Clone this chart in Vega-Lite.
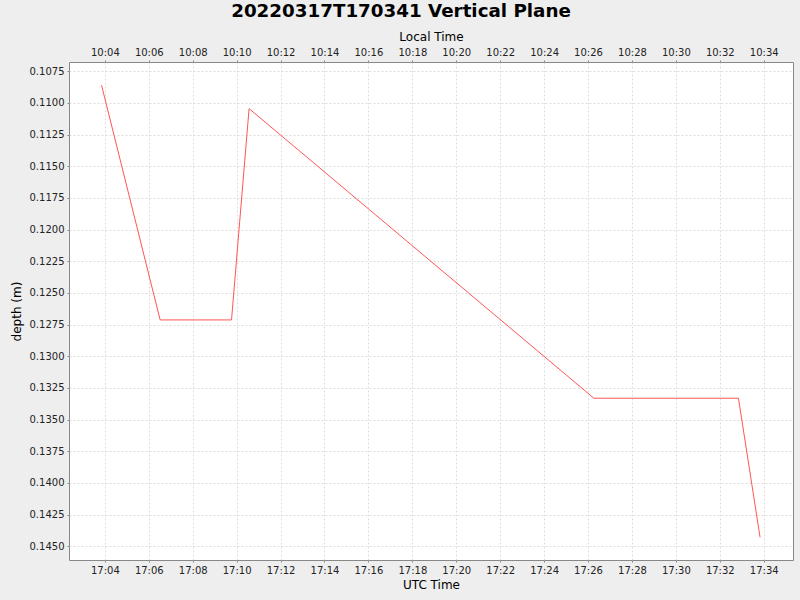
{
  "$schema": "https://vega.github.io/schema/vega-lite/v6.json",
  "width": 724,
  "height": 498,
  "autosize": "none",
  "padding": {"left": 69, "top": 62, "right": 8, "bottom": 40},
  "background": "#EEEEEE",
  "title": {
    "text": "20220317T170341 Vertical Plane",
    "font": "DejaVu Sans",
    "fontSize": 18.3,
    "fontWeight": "bold",
    "color": "#000000",
    "anchor": "middle",
    "dx": -30,
    "dy": -5
  },
  "config": {
    "font": "DejaVu Sans",
    "view": {"fill": "white", "stroke": "#888888"},
    "axis": {
      "labelFont": "DejaVu Sans",
      "labelFontSize": 10,
      "labelColor": "#222222",
      "titleFont": "DejaVu Sans",
      "titleFontSize": 12,
      "titleFontWeight": "normal",
      "titleColor": "#000000",
      "domain": false,
      "tickColor": "#888888",
      "tickSize": 2,
      "labelPadding": 3,
      "gridColor": "#DDDDDD",
      "gridDash": [2, 2],
      "gridWidth": 1
    }
  },
  "data": {
    "values": [
      {"utc": "2022-03-17T17:03:51Z", "depth": 0.10861},
      {"utc": "2022-03-17T17:06:31Z", "depth": 0.12713},
      {"utc": "2022-03-17T17:09:46Z", "depth": 0.12713},
      {"utc": "2022-03-17T17:10:34Z", "depth": 0.11045},
      {"utc": "2022-03-17T17:26:16Z", "depth": 0.13331},
      {"utc": "2022-03-17T17:32:51Z", "depth": 0.13331},
      {"utc": "2022-03-17T17:33:50Z", "depth": 0.14429}
    ]
  },
  "encoding": {
    "y": {
      "field": "depth",
      "type": "quantitative",
      "title": "depth (m)",
      "scale": {"domain": [0.10677, 0.14608], "reverse": true, "nice": false, "zero": false},
      "axis": {
        "values": [0.1075, 0.11, 0.1125, 0.115, 0.1175, 0.12, 0.1225, 0.125, 0.1275, 0.13, 0.1325, 0.135, 0.1375, 0.14, 0.1425, 0.145],
        "format": ".4f",
        "titlePadding": 6
      }
    }
  },
  "layer": [
    {
      "mark": {"type": "line", "color": "#FF5555", "strokeWidth": 1},
      "encoding": {
        "x": {
          "field": "utc",
          "type": "temporal",
          "title": "UTC Time",
          "scale": {
            "type": "utc",
            "nice": false,
            "domain": ["2022-03-17T17:02:22Z", "2022-03-17T17:35:20Z"]
          },
          "axis": {
            "orient": "bottom",
            "format": "%H:%M",
            "values": [1647536640000, 1647536760000, 1647536880000, 1647537000000, 1647537120000, 1647537240000, 1647537360000, 1647537480000, 1647537600000, 1647537720000, 1647537840000, 1647537960000, 1647538080000, 1647538200000, 1647538320000, 1647538440000],
            "titlePadding": 4
          }
        }
      }
    },
    {
      "mark": {"type": "line", "strokeOpacity": 0},
      "encoding": {
        "x": {
          "field": "utc",
          "type": "temporal",
          "title": "Local Time",
          "scale": {
            "type": "utc",
            "nice": false,
            "domain": ["2022-03-17T17:02:22Z", "2022-03-17T17:35:20Z"]
          },
          "axis": {
            "orient": "top",
            "grid": false,
            "values": [1647536640000, 1647536760000, 1647536880000, 1647537000000, 1647537120000, 1647537240000, 1647537360000, 1647537480000, 1647537600000, 1647537720000, 1647537840000, 1647537960000, 1647538080000, 1647538200000, 1647538320000, 1647538440000],
            "labelExpr": "utcFormat(datum.value - 25200000, '%H:%M')",
            "titlePadding": 4
          }
        }
      }
    }
  ],
  "resolve": {"scale": {"x": "independent"}, "axis": {"x": "independent"}}
}
